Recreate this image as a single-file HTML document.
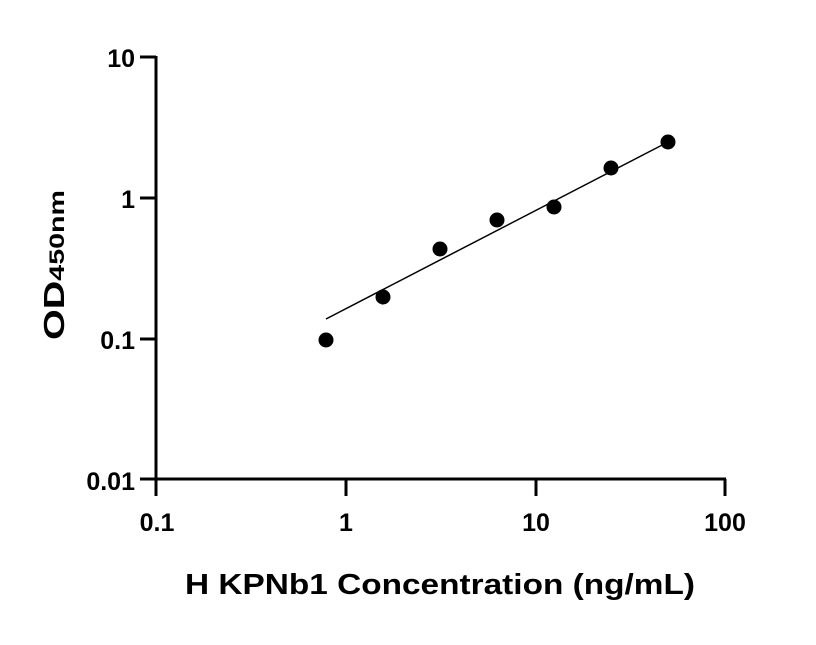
<!DOCTYPE html>
<html><head><style>body{margin:0;background:#fff}</style></head><body>
<svg width="816" height="640" xmlns="http://www.w3.org/2000/svg" font-family="Liberation Sans, Arial, sans-serif" font-weight="bold">
<g stroke="#000" stroke-width="3" fill="none">
<line x1="156" y1="56" x2="156" y2="496"/>
<line x1="140" y1="479" x2="726" y2="479"/>
<line x1="140" y1="57" x2="156" y2="57"/>
<line x1="140" y1="198" x2="156" y2="198"/>
<line x1="140" y1="339" x2="156" y2="339"/>
<line x1="346" y1="479" x2="346" y2="496"/>
<line x1="536" y1="479" x2="536" y2="496"/>
<line x1="725" y1="479" x2="725" y2="496"/>
</g>
<g font-size="25" text-anchor="end">
<text x="135" y="67">10</text>
<text x="135" y="208">1</text>
<text x="135" y="349">0.1</text>
<text x="135" y="490">0.01</text>
</g>
<g font-size="25" text-anchor="middle">
<text x="157" y="531">0.1</text>
<text x="346" y="531">1</text>
<text x="536" y="531">10</text>
<text x="725" y="531">100</text>
</g>
<text x="185" y="594" font-size="29" textLength="510" lengthAdjust="spacingAndGlyphs">H KPNb1 Concentration (ng/mL)</text>
<text transform="translate(64,340) rotate(-90)" font-size="29" textLength="150" lengthAdjust="spacingAndGlyphs">OD<tspan font-size="21">450nm</tspan></text>
<line x1="326" y1="319" x2="668" y2="142" stroke="#000" stroke-width="1.5"/>
<g fill="#000">
<circle cx="326" cy="340" r="7.5"/><circle cx="383" cy="297" r="7.5"/><circle cx="440" cy="249" r="7.5"/>
<circle cx="497" cy="220" r="7.5"/><circle cx="554" cy="207" r="7.5"/><circle cx="611" cy="168" r="7.5"/>
<circle cx="668" cy="142" r="7.5"/>
</g>
</svg>
</body></html>
